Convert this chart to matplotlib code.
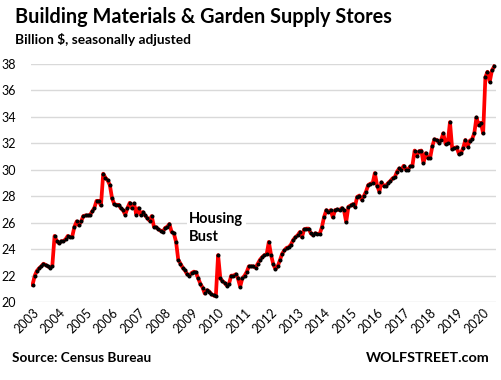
import pandas as pd
import matplotlib.pyplot as plt
import matplotlib.dates as mdates

# monthly sales, billion $, seasonally adjusted, starting Jan 2003
sales_2003_2005 = [21.3, 22.0, 22.35, 22.55, 22.7, 22.9, 22.8, 22.7, 22.6, 22.75, 25.0, 24.6,
                   24.45, 24.6, 24.6, 24.75, 25.0, 24.9, 24.95, 25.7, 26.1, 25.8, 26.1, 26.5,
                   26.55, 26.55, 26.55, 26.85, 27.1, 27.65, 27.65, 27.3, 29.7, 29.4, 29.2, 28.85]
sales_2006_2009 = [27.85, 27.4, 27.35, 27.35, 27.1, 26.95, 26.6, 27.1, 27.5, 27.1, 27.45, 26.6,
                   27.1, 26.6, 26.8, 26.55, 26.35, 26.15, 26.5, 25.7, 25.65, 25.5, 25.4, 25.3,
                   25.6, 25.7, 25.9, 25.3, 25.2, 24.55, 23.2, 22.9, 22.6, 22.4, 22.1, 22.0,
                   22.2, 22.3, 22.25, 21.8, 21.4, 21.1, 20.65, 20.9, 20.8, 20.6, 20.5, 20.45]
sales_2010_2014 = [23.55, 21.8, 21.6, 21.45, 21.25, 21.4, 22.0, 22.0, 22.1, 21.8, 21.15, 21.8,
                   22.0, 22.3, 22.7, 22.7, 22.7, 22.6, 22.9, 23.2, 23.4, 23.55, 23.6, 24.55,
                   23.55, 22.85, 22.5, 22.7, 23.15, 23.65, 23.9, 24.1, 24.15, 24.35, 24.7, 24.9,
                   25.05, 25.3, 24.9, 25.5, 25.55, 25.55, 25.2, 25.05, 25.2, 25.15, 25.15, 25.65,
                   26.45, 26.95, 26.8, 26.95, 26.4, 26.95, 27.0, 26.95, 27.1, 26.95, 26.05, 27.2]
sales_2015_2020 = [27.3, 27.4, 27.2, 27.95, 28.05, 27.75, 28.0, 28.35, 28.85, 28.95, 29.0, 29.75,
                   28.8, 28.35, 29.05, 28.8, 28.8, 29.0, 29.15, 29.35, 29.45, 29.85, 30.1, 30.0,
                   30.3, 30.0, 30.0, 30.25, 30.3, 31.45, 31.05, 31.4, 31.45, 30.5, 31.25, 30.9,
                   30.9, 31.8, 32.3, 32.25, 32.05, 32.25, 32.75, 31.95, 32.05, 33.6, 31.55, 31.65,
                   31.7, 31.2, 31.25, 31.65, 32.25, 31.75, 32.2, 32.3, 32.75, 33.95, 33.35, 33.55,
                   32.75, 37.0, 37.4, 36.65, 37.5, 37.8]

sales = sales_2003_2005 + sales_2006_2009 + sales_2010_2014 + sales_2015_2020
months = pd.date_range("2003-01-01", periods=len(sales), freq="MS")
years = list(range(2003, 2021))
y_ticks = list(range(20, 39, 2))

font = "Lato"
fig = plt.figure(figsize=(5.01, 3.80), dpi=100)
ax = fig.add_axes([0.062, 0.205, 0.928, 0.627])

ax.plot(months, sales, color="red", lw=2.7, marker="o", ms=1.9,
        mfc="black", mec="black", zorder=3)

ax.set_ylim(20, 38)
ax.set_yticks(y_ticks)
ax.set_xlim(months[0] - pd.Timedelta(days=20), months[-1] + pd.Timedelta(days=25))
ax.set_xticks([pd.Timestamp(f"{y}-01-01") for y in years])
ax.xaxis.set_major_formatter(mdates.DateFormatter("%Y"))

ax.grid(axis="y", color="#d9d9d9", lw=1)
ax.set_axisbelow(True)
for s in ax.spines.values():
    s.set_visible(False)
ax.tick_params(length=0, labelsize=9)
ax.tick_params(axis="y", pad=11)
ax.tick_params(axis="x", pad=3)
for lbl in ax.get_xticklabels():
    lbl.set_rotation(45)
    lbl.set_ha("right")
    lbl.set_rotation_mode("anchor")
    lbl.set_family(font)
for lbl in ax.get_yticklabels():
    lbl.set_family(font)

ax.text(pd.Timestamp("2008-12-01"), 25.6, "Housing\nBust", fontsize=10.5, fontweight="bold",
        family=font, linespacing=1.35, va="center", ha="left",
        bbox=dict(facecolor="white", edgecolor="none", pad=2))

fig.text(15 / 501, 1 - 23 / 380, "Building Materials & Garden Supply Stores",
         fontsize=14.3, fontweight="bold", family=font, va="baseline")
fig.text(15 / 501, 1 - 44 / 380, "Billion $, seasonally adjusted",
         fontsize=9.9, fontweight="bold", family=font, va="baseline")
fig.text(12 / 501, 1 - 362 / 380, "Source: Census Bureau",
         fontsize=9.8, fontweight="bold", family=font, va="baseline")
fig.text(490 / 501, 1 - 362 / 380, "WOLFSTREET.com",
         fontsize=10.4, fontweight="bold", family=font, va="baseline", ha="right")

fig.savefig("out.png", dpi=100)
